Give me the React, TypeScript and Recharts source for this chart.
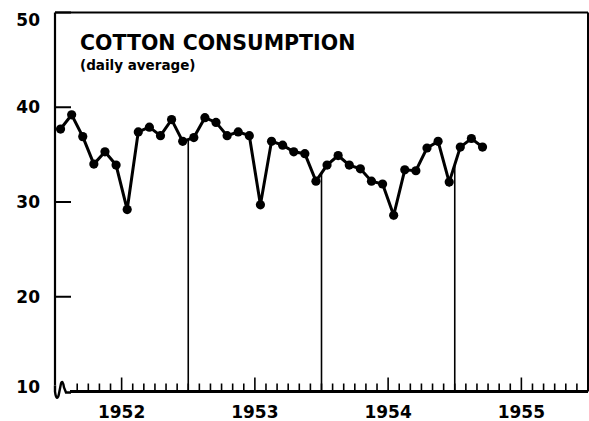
import React from 'react';
import { LineChart, Line, XAxis, YAxis, ReferenceLine } from 'recharts';

const monthLabels: string[] = [
  '1952-01','1952-02','1952-03','1952-04','1952-05','1952-06','1952-07','1952-08','1952-09','1952-10','1952-11','1952-12',
  '1953-01','1953-02','1953-03','1953-04','1953-05','1953-06','1953-07','1953-08','1953-09','1953-10','1953-11','1953-12',
  '1954-01','1954-02','1954-03','1954-04','1954-05','1954-06','1954-07','1954-08','1954-09','1954-10','1954-11','1954-12',
  '1955-01','1955-02','1955-03',
];

const consumption: number[] = [
  37.7, 39.2, 36.9, 34.0, 35.3, 33.9, 29.2, 37.4, 37.9, 37.0, 38.7, 36.4,
  36.8, 38.9, 38.4, 37.0, 37.4, 37.0, 29.7, 36.4, 36.0, 35.3, 35.1, 32.2,
  33.9, 34.9, 33.9, 33.5, 32.2, 31.9, 28.6, 33.4, 33.3, 35.7, 36.4, 32.1,
  35.8, 36.7, 35.8,
];

const yearLabels: string[] = ['1952', '1953', '1954', '1955'];
const yTicks: number[] = [10, 20, 30, 40, 50];
const monthsPerYear = 12;
const totalMonths = yearLabels.length * monthsPerYear;
const monthTicks: number[] = Array.from({ length: totalMonths + 1 }, (_, i) => i);
const yearStarts: number[] = [12, 24, 36];

const data = monthLabels.map((m, i) => ({ month: m, pos: i + 0.5, value: consumption[i] }));

const valueAt = (x: number): number => {
  for (let i = 0; i < data.length - 1; i++) {
    const a = data[i], b = data[i + 1];
    if (x >= a.pos && x <= b.pos) {
      const t = (x - a.pos) / (b.pos - a.pos);
      return a.value + t * (b.value - a.value);
    }
  }
  return data[data.length - 1].value;
};

const FONT = '"DejaVu Sans", sans-serif';

const breakPath = (cx: number, cy: number) =>
  `M ${cx} ${cy - 6} L ${cx} ${cy} C ${cx + 1} ${cy + 8}, ${cx + 3} ${cy + 8}, ${cx + 4} ${cy + 2} L ${cx + 6} ${cy - 8} C ${cx + 7} ${cy - 11}, ${cx + 8} ${cy - 10}, ${cx + 9} ${cy - 4} L ${cx + 11} ${cy + 1} L ${cx + 16} ${cy + 1}`;

const LeftTick = (props: any) => {
  const { x, y, payload } = props;
  const v = payload.value;
  const dy = v === 50 ? 7 : v === 10 ? -5 : 0;
  return (
    <g>
      {v !== 10 && <line x1={x} x2={x + 16} y1={y} y2={y} stroke="#000" strokeWidth={2} />}
      {v === 10 && (
        <g>
          <rect x={x - 3} y={y - 6} width={18} height={10} fill="#fff" />
          <path d={breakPath(x, y)} stroke="#000" strokeWidth={2.4} fill="none" />
        </g>
      )}
      <text x={x - 15} y={y + 6.2 + dy} textAnchor="end" fontFamily={FONT} fontWeight="bold" fontSize={17} fill="#000">
        {v}
      </text>
    </g>
  );
};

const RightTick = (props: any) => {
  const { x, y, payload } = props;
  const v = payload.value;
  if (v === 50 || v === 10) return <g />;
  return <line x1={x} x2={x - 14} y1={y} y2={y} stroke="#000" strokeWidth={2} />;
};

const BottomTick = (props: any) => {
  const { x, y, payload } = props;
  const k = payload.value as number;
  if (k <= 1 || k >= totalMonths) return <g />;
  const mid = k % monthsPerYear === 6;
  const len = mid ? 14 : 8;
  return (
    <g>
      <line x1={x} x2={x} y1={y} y2={y - len} stroke="#000" strokeWidth={1.6} />
      {mid && (
        <text x={x} y={y + 26} textAnchor="middle" fontFamily={FONT} fontWeight="bold" fontSize={17} fill="#000">
          {yearLabels[Math.floor(k / monthsPerYear)]}
        </text>
      )}
    </g>
  );
};

export default function App() {
  return (
    <div style={{ position: 'absolute', left: 0, top: 0, width: 589, height: 421, background: '#fff' }}>
      <LineChart
        width={589}
        height={421}
        data={data}
        margin={{ top: 12.5, right: 0, bottom: 0, left: 0 }}
      >
        <ReferenceLine yAxisId="l" y={50} stroke="#000" strokeWidth={2} />
        <ReferenceLine yAxisId="l" y={10} stroke="#000" strokeWidth={3} />
        <ReferenceLine yAxisId="l" x={0} stroke="#000" strokeWidth={2.2} />
        {yearStarts.map((m) => (
          <ReferenceLine
            key={m}
            yAxisId="l"
            segment={[{ x: m, y: 10 }, { x: m, y: valueAt(m) }]}
            stroke="#000"
            strokeWidth={1.6}
          />
        ))}
        <XAxis
          dataKey="pos"
          type="number"
          domain={[0, totalMonths]}
          ticks={monthTicks}
          interval={0}
          height={29.5}
          tickSize={0}
          tickMargin={0}
          tickLine={false}
          axisLine={false}
          tick={<BottomTick />}
        />
        <YAxis
          yAxisId="l"
          orientation="left"
          domain={[10, 50]}
          ticks={yTicks}
          interval={0}
          width={55}
          tickSize={0}
          tickMargin={0}
          tickLine={false}
          axisLine={false}
          tick={<LeftTick />}
        />
        <YAxis
          yAxisId="r"
          orientation="right"
          domain={[10, 50]}
          ticks={yTicks}
          interval={0}
          width={1}
          tickSize={0}
          tickMargin={0}
          tickLine={false}
          axisLine={{ stroke: '#000', strokeWidth: 2 }}
          tick={<RightTick />}
        />
        <Line
          yAxisId="l"
          dataKey="value"
          type="linear"
          stroke="#000"
          strokeWidth={3}
          dot={{ r: 4.6, fill: '#000', stroke: '#000', strokeWidth: 0 }}
          isAnimationActive={false}
        />
      </LineChart>
      <div
        style={{
          position: 'absolute', left: 80, top: 32.7, fontFamily: FONT, fontWeight: 'bold',
          fontSize: 20.5, lineHeight: 1, color: '#000', whiteSpace: 'nowrap',
        }}
      >
        COTTON CONSUMPTION
      </div>
      <div
        style={{
          position: 'absolute', left: 80, top: 59, fontFamily: FONT, fontWeight: 'bold',
          fontSize: 13.5, lineHeight: 1, color: '#000', whiteSpace: 'nowrap',
        }}
      >
        (daily average)
      </div>
    </div>
  );
}
